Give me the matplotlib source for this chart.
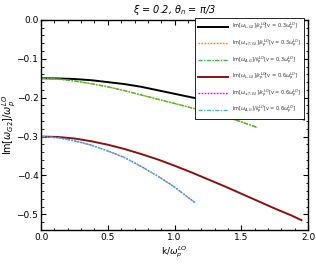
import numpy as np
import matplotlib.pyplot as plt
from matplotlib.ticker import MultipleLocator

# curves
k_black = [0.0, 0.125, 0.25, 0.375, 0.5, 0.625, 0.75, 0.875, 1.0, 1.125, 1.25, 1.375, 1.5, 1.625, 1.75, 1.875, 1.97]
im_black = [-0.150, -0.1505, -0.152, -0.155, -0.160, -0.165, -0.172, -0.181, -0.190, -0.199, -0.208,
            -0.2165, -0.225, -0.233, -0.241, -0.249, -0.256]

k_green = [0.0, 0.125, 0.25, 0.375, 0.5, 0.625, 0.75, 0.875, 1.0, 1.125, 1.25, 1.375, 1.5, 1.62]
im_green = [-0.150, -0.152, -0.157, -0.164, -0.172, -0.182, -0.193, -0.204, -0.215, -0.226, -0.237,
            -0.249, -0.262, -0.277]

k_red = [0.0, 0.125, 0.25, 0.375, 0.5, 0.625, 0.75, 0.875, 1.0, 1.125, 1.25, 1.375, 1.5, 1.625, 1.75, 1.875, 1.95]
im_red = [-0.300, -0.301, -0.305, -0.312, -0.321, -0.332, -0.345, -0.359, -0.375, -0.392, -0.410,
          -0.428, -0.447, -0.466, -0.485, -0.503, -0.515]

k_cyan = [0.0, 0.125, 0.25, 0.375, 0.5, 0.625, 0.75, 0.875, 1.0, 1.153]
im_cyan = [-0.300, -0.303, -0.311, -0.322, -0.337, -0.354, -0.377, -0.402, -0.430, -0.470]

labels = [
    r"Im[$\omega_{L,G2}$]/$k_p^{LO}$[v = 0.3$\omega_p^{LO}$]",
    r"Im[$\omega_{\pm T,G2}$]/$k_p^{LO}$[v = 0.3$\omega_p^{LO}$]",
    r"Im[$\omega_{A,G}$]/$k_p^{LO}$[v = 0.3$\omega_p^{LO}$]",
    r"Im[$\omega_{L,G2}$]/$k_p^{LO}$[v = 0.6$\omega_p^{LO}$]",
    r"Im[$\omega_{\pm T,G2}$]/$k_p^{LO}$[v = 0.6$\omega_p^{LO}$]",
    r"Im[$\omega_{A,G}$]/$k_p^{LO}$[v = 0.6$\omega_p^{LO}$]",
]

fig = plt.figure(figsize=(3.16, 2.73), dpi=100)
ax = fig.add_axes([0.130, 0.158, 0.845, 0.769])

ax.plot(k_black, im_black, color="black", lw=1.4, label=labels[0])
ax.plot(k_green, im_green, color="#ff7f0e", lw=1.0, ls=(0, (1.2, 1)), label=labels[1])
ax.plot(k_green, im_green, color="#22cc22", lw=1.0, ls=(0, (3, 1, 1, 1)), label=labels[2])
ax.plot(k_red, im_red, color="#8b1010", lw=1.4, label=labels[3])
ax.plot(k_cyan, im_cyan, color="#ee00ee", lw=1.0, ls=(0, (1.2, 1)), label=labels[4])
ax.plot(k_cyan, im_cyan, color="#22cccc", lw=1.0, ls=(0, (3, 1, 1, 1)), label=labels[5])

ax.set_xlim(0, 2.0)
ax.set_ylim(-0.54, 0.0)
ax.xaxis.set_major_locator(MultipleLocator(0.5))
ax.xaxis.set_minor_locator(MultipleLocator(0.1))
ax.yaxis.set_major_locator(MultipleLocator(0.1))
ax.yaxis.set_minor_locator(MultipleLocator(0.02))
ax.tick_params(which="both", direction="in", top=True, right=True, labelsize=6.5, pad=2)
ax.tick_params(which="major", length=3.5, width=0.8)
ax.tick_params(which="minor", length=1.8, width=0.6)
ax.yaxis.set_major_formatter(plt.FuncFormatter(lambda v, p: f"{v:.1f}".replace("-", "\u2212")))
ax.xaxis.set_major_formatter(plt.FuncFormatter(lambda v, p: f"{v:.1f}"))
for s in ax.spines.values():
    s.set_linewidth(1.0)

ax.set_xlabel(r"k/$\omega_p^{LO}$", fontsize=6.5, labelpad=2)
ax.set_ylabel(r"Im[$\omega_{G2}$]/$\omega_p^{LO}$", fontsize=7)
ax.yaxis.set_label_coords(-0.088, 0.5)
ax.set_title(r"$\xi$ = 0.2, $\theta_n$ = $\pi$/3", fontsize=7, style="italic", pad=5)

leg = ax.legend(loc="upper right", bbox_to_anchor=(0.995, 1.02), fontsize=3.6, frameon=True,
                fancybox=False, edgecolor="black", framealpha=1, handlelength=6,
                borderpad=0.6, labelspacing=0.9, handletextpad=0.8)
leg.get_frame().set_linewidth(0.6)
for t in leg.get_texts():
    t.set_color("#333333")

fig.savefig("out.png", dpi=100)
